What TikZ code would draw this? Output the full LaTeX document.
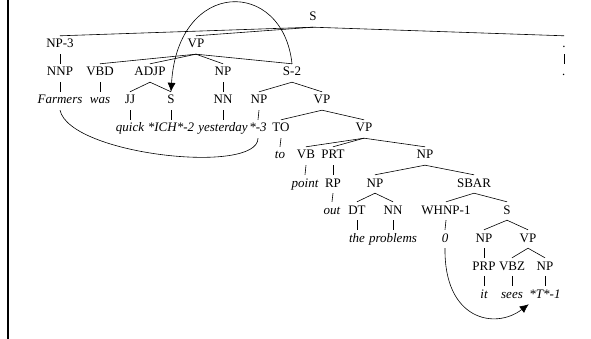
\documentclass[tikz,border=0pt]{standalone}
\usepackage{fontspec}
\setmainfont{Liberation Serif}
\usetikzlibrary{arrows.meta}
\begin{document}
\begin{tikzpicture}[x=1pt,y=-1pt,
  every node/.style={inner xsep=0.5pt, inner ysep=3pt, text height=9pt, text depth=3pt, font=\fontsize{13}{15}\selectfont},
  tag/.style={},
  word/.style={font=\fontsize{13}{15}\selectfont\itshape},
  edge/.style={draw, line width=0.6pt},
  trace/.style={draw, line width=0.6pt},
  tip/.style={-{Latex[length=9pt,width=8pt]}},
  border/.style={draw, line width=2.4pt}]
\useasboundingbox (0,0) rectangle (591,339);
\draw[border] (8,0) -- (8,339);
% row 1
\node[tag] (S) at (313,18) {S};
% row 2
\node[tag] (NPthree) at (60,45) {NP-3};
\node[tag] (VPa) at (196,45) {VP};
\node[tag] (dota) at (564,45) {.};
% row 3
\node[tag] (NNP) at (60,73) {NNP};
\node[tag] (VBD) at (100,73) {VBD};
\node[tag] (ADJP) at (150,73) {ADJP};
\node[tag] (NPa) at (223,73) {NP};
\node[tag] (Stwo) at (292,73) {S-2};
\node[word] (dotb) at (564,73) {.};
% row 4
\node[word] (farmers) at (60,101) {Farmers};
\node[word] (was) at (100,101) {was};
\node[tag] (JJ) at (130,101) {JJ};
\node[tag] (Sb) at (171,101) {S};
\node[tag] (NNa) at (223,101) {NN};
\node[tag] (NPb) at (259,101) {NP};
\node[tag] (VPb) at (322,101) {VP};
% row 5
\node[word] (quick) at (130,129) {quick};
\node[word] (ich) at (171,129) {*ICH*-2};
\node[word] (yesterday) at (223,129) {yesterday};
\node[word] (starthree) at (258,129) {*-3};
\node[tag] (TO) at (281,129) {TO};
\node[tag] (VPc) at (364,129) {VP};
% row 6
\node[word] (to) at (280,156) {to};
\node[tag] (VB) at (306,156) {VB};
\node[tag] (PRT) at (333,156) {PRT};
\node[tag] (NPc) at (425,156) {NP};
% row 7
\node[word] (point) at (305,184) {point};
\node[tag] (RP) at (333,184) {RP};
\node[tag] (NPd) at (375,184) {NP};
\node[tag] (SBAR) at (474,184) {SBAR};
% row 8
\node[word] (out) at (332,211) {out};
\node[tag] (DT) at (357,211) {DT};
\node[tag] (NNb) at (393,211) {NN};
\node[tag] (WHNP) at (446,211) {WHNP-1};
\node[tag] (Sc) at (507,211) {S};
% row 9
\node[word] (the) at (357,239) {the};
\node[word] (problems) at (393,239) {problems};
\node[word] (zero) at (445,239) {0};
\node[tag] (NPe) at (484,239) {NP};
\node[tag] (VPd) at (528,239) {VP};
% row 10
\node[tag] (PRP) at (484,267) {PRP};
\node[tag] (VBZ) at (512,267) {VBZ};
\node[tag] (NPf) at (545,267) {NP};
% row 11
\node[word] (it) at (484,295) {it};
\node[word] (sees) at (512,295) {sees};
\node[word] (tone) at (545,295) {*T*-1};
% tree edges
\foreach \p/\c in {S/NPthree,S/VPa,S/dota,dota/dotb,NPthree/NNP,NNP/farmers,
  VPa/VBD,VPa/ADJP,VPa/NPa,VPa/Stwo,VBD/was,ADJP/JJ,ADJP/Sb,JJ/quick,Sb/ich,
  NPa/NNa,NNa/yesterday,Stwo/NPb,Stwo/VPb,NPb/starthree,VPb/TO,VPb/VPc,TO/to,
  VPc/VB,VPc/PRT,VPc/NPc,VB/point,PRT/RP,RP/out,NPc/NPd,NPc/SBAR,NPd/DT,NPd/NNb,
  DT/the,NNb/problems,SBAR/WHNP,SBAR/Sc,WHNP/zero,Sc/NPe,Sc/VPd,NPe/PRP,PRP/it,
  VPd/VBZ,VPd/NPf,VBZ/sees,NPf/tone}
  \draw[edge] (\p.south) -- (\c.north);
% trace curves
\draw[trace,tip] (Stwo.north) .. controls (283,-22) and (178,-22) .. (Sb.north);
\draw[trace] (farmers.south) .. controls (70,155) and (258,175) .. (starthree.south);
\draw[trace,tip] (zero.south) .. controls (444,320) and (495,330) .. (tone.south west);
\end{tikzpicture}
\end{document}
